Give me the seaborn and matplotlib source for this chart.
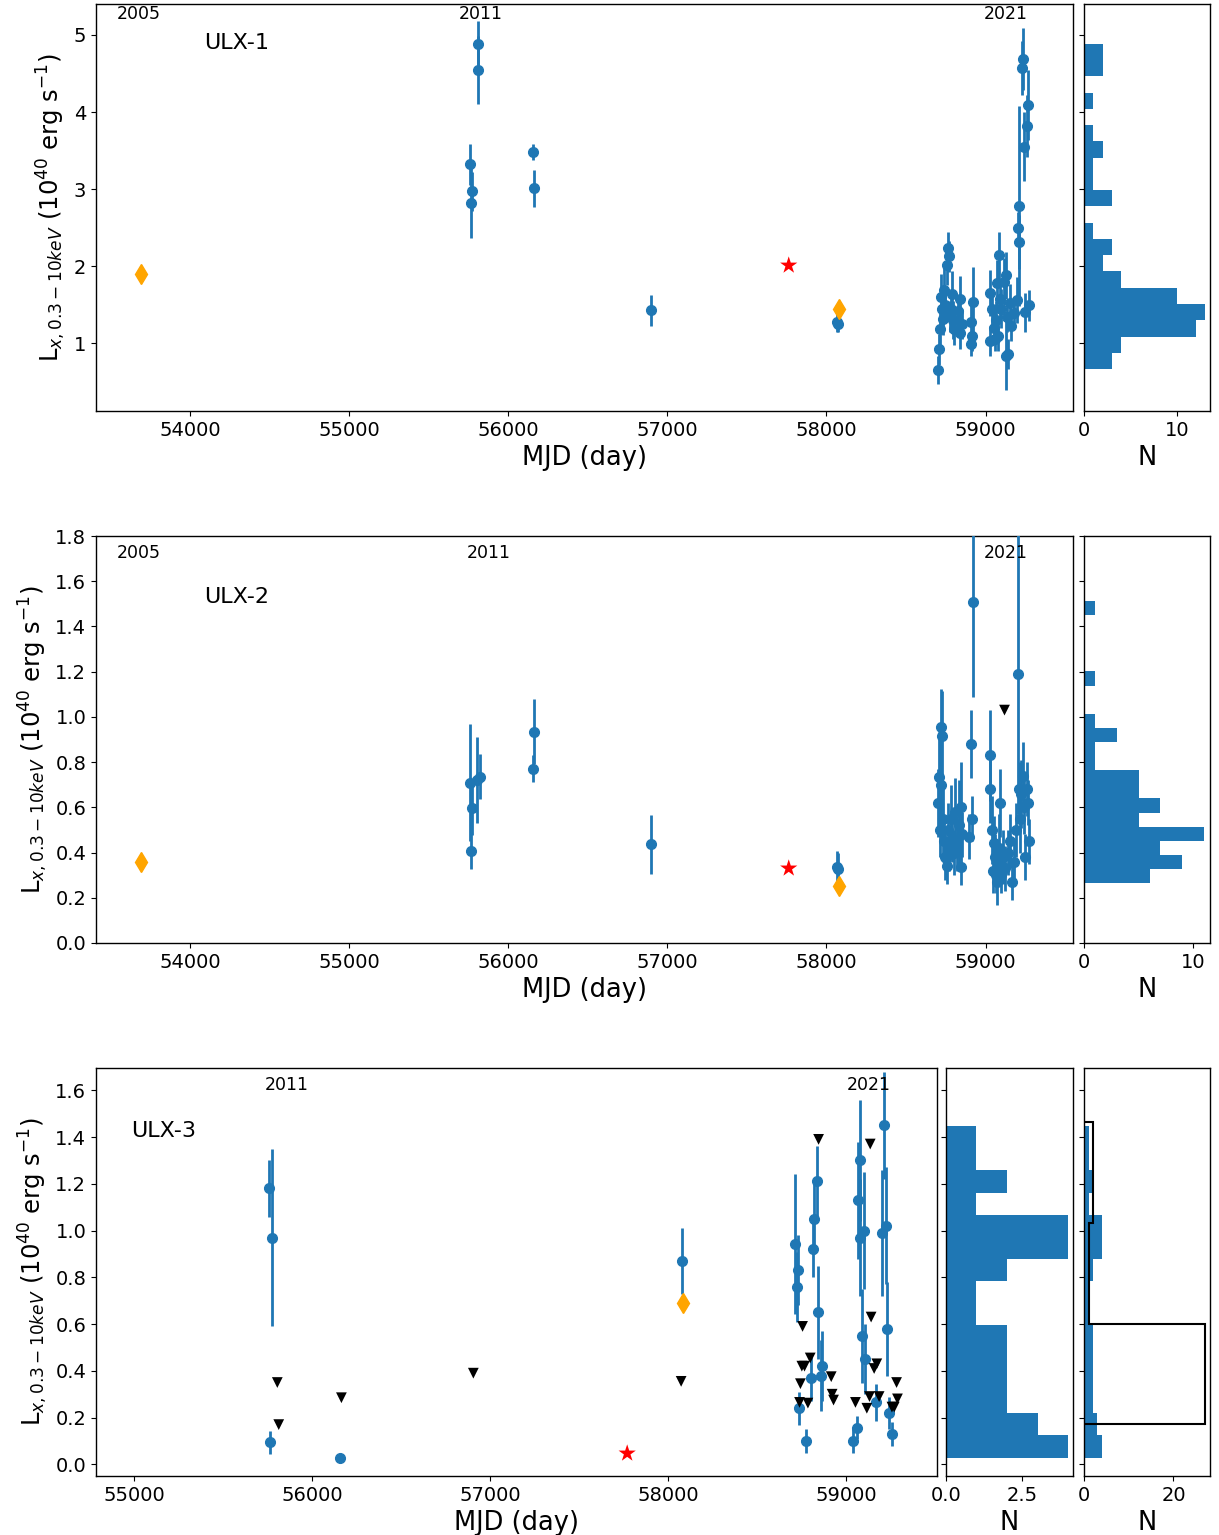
import numpy as np
import pandas as pd
import matplotlib
matplotlib.use("Agg")
import matplotlib.pyplot as plt
import seaborn as sns

# ---------------- ULX-1 ----------------
ulx1_mjd = [55759, 55771, 55765, 55809, 55812, 56155, 56161, 56896, 58068, 58072,
            58700, 58707, 58711, 58719, 58726, 58732, 58738, 58745, 58757, 58763,
            58768, 58775, 58785, 58790, 58795, 58800, 58826, 58837, 58842, 58850,
            58906, 58910, 58915, 58920, 59025, 59030, 59042, 59050, 59057, 59063,
            59073, 59077, 59084, 59088, 59100, 59117, 59126, 59130, 59135, 59140,
            59151, 59161, 59176, 59199, 59203, 59209, 59209, 59226, 59237, 59243,
            59245, 59258, 59266, 59270]
ulx1_lum = [3.32, 2.97, 2.82, 4.88, 4.55, 3.48, 3.01, 1.43, 1.27, 1.25,
            0.65, 0.92, 1.19, 1.60, 1.45, 1.31, 1.69, 1.50, 2.01, 2.23,
            2.13, 1.35, 1.44, 1.64, 1.30, 1.18, 1.42, 1.57, 1.13, 1.25,
            0.99, 1.28, 1.10, 1.54, 1.03, 1.65, 1.44, 1.20, 1.05, 1.30,
            1.78, 1.10, 2.14, 1.58, 1.45, 1.80, 0.84, 1.88, 1.34, 0.86,
            1.52, 1.23, 1.39, 1.56, 2.50, 2.78, 2.31, 4.57, 4.69, 3.55,
            1.40, 3.82, 4.09, 1.49]
ulx1_err = [0.27, 0.25, 0.45, 0.30, 0.44, 0.10, 0.24, 0.20, 0.12, 0.10,
            0.18, 0.20, 0.25, 0.30, 0.25, 0.20, 0.28, 0.20, 0.25, 0.22,
            0.20, 0.20, 0.22, 0.30, 0.25, 0.20, 0.20, 0.30, 0.20, 0.20,
            0.15, 0.25, 0.20, 0.45, 0.20, 0.30, 0.20, 0.20, 0.15, 0.25,
            0.30, 0.20, 0.30, 0.25, 0.25, 0.30, 0.45, 0.30, 0.20, 0.20,
            0.25, 0.20, 0.20, 0.30, 0.20, 1.30, 0.35, 0.35, 0.40, 0.45,
            0.25, 0.40, 0.45, 0.20]
ulx1_xmm_mjd = [53692, 58077]
ulx1_xmm_lum = [1.90, 1.44]
ulx1_xmm_err = [0.06, 0.06]
ulx1_cxo_mjd = [57763]
ulx1_cxo_lum = [2.01]
ulx1_hist_counts = [3, 4, 12, 13, 10, 4, 2, 3, 1, 0, 3, 1, 1, 2, 1, 0, 1, 0, 2, 2]
ulx1_hist_range = (0.665, 4.885)

# ---------------- ULX-2 ----------------
ulx2_mjd = [55759, 55771, 55766, 55805, 55820, 56163, 56157, 56896, 58068, 58072,
            58700, 58705, 58712, 58717, 58722, 58729, 58735, 58740, 58748, 58754,
            58760, 58766, 58772, 58780, 58790, 58800, 58810, 58820, 58835, 58843,
            58847, 58855, 58899, 58906, 58916, 58920, 59025, 59031, 59038, 59045,
            59052, 59060, 59066, 59070, 59078, 59085, 59092, 59100, 59110, 59125,
            59140, 59155, 59167, 59180, 59192, 59203, 59209, 59215, 59222, 59234,
            59240, 59250, 59260, 59266, 59272]
ulx2_lum = [0.709, 0.596, 0.407, 0.72, 0.735, 0.935, 0.77, 0.437, 0.336, 0.327,
            0.62, 0.735, 0.50, 0.954, 0.70, 0.915, 0.55, 0.45, 0.38, 0.375,
            0.34, 0.50, 0.42, 0.55, 0.46, 0.40, 0.58, 0.44, 0.52, 0.335,
            0.60, 0.48, 0.47, 0.88, 0.55, 1.51, 0.68, 0.83, 0.50, 0.32,
            0.44, 0.38, 0.30, 0.27, 0.35, 0.42, 0.62, 0.30, 0.38, 0.33,
            0.40, 0.45, 0.27, 0.36, 0.50, 1.19, 0.68, 0.55, 0.66, 0.74,
            0.60, 0.38, 0.68, 0.62, 0.45]
ulx2_err = [0.26, 0.12, 0.08, 0.19, 0.10, 0.145, 0.06, 0.13, 0.07, 0.07,
            0.15, 0.20, 0.12, 0.17, 0.25, 0.20, 0.15, 0.10, 0.10, 0.08,
            0.08, 0.12, 0.10, 0.15, 0.10, 0.10, 0.15, 0.12, 0.20, 0.08,
            0.20, 0.10, 0.10, 0.15, 0.10, 0.42, 0.15, 0.20, 0.15, 0.10,
            0.12, 0.10, 0.08, 0.10, 0.10, 0.15, 0.15, 0.08, 0.12, 0.10,
            0.10, 0.12, 0.08, 0.10, 0.12, 0.62, 0.12, 0.15, 0.15, 0.15,
            0.12, 0.10, 0.12, 0.10, 0.10]
ulx2_ul_mjd = [59119]
ulx2_ul_lum = [1.03]
ulx2_xmm_mjd = [53692, 58077]
ulx2_xmm_lum = [0.358, 0.25]
ulx2_xmm_err = [0.035, 0.02]
ulx2_cxo_mjd = [57763]
ulx2_cxo_lum = [0.33]
ulx2_hist_counts = [6, 9, 7, 11, 5, 7, 5, 5, 1, 1, 3, 1, 0, 0, 1, 0, 0, 0, 0, 1]
ulx2_hist_range = (0.265, 1.513)

# ---------------- ULX-3 ----------------
ulx3_mjd = [55760, 55773, 55764, 56157, 58079,
            58715, 58728, 58723, 58835, 58822, 58811, 58841, 58863, 58856, 58803,
            58734, 58775, 59080, 59064, 59075, 59101, 59213, 59200, 59225, 59088,
            59105, 59230, 59170, 59238, 59260, 59058, 59039]
ulx3_lum = [1.18, 0.97, 0.094, 0.029, 0.87,
            0.944, 0.83, 0.76, 1.21, 1.05, 0.92, 0.65, 0.42, 0.38, 0.37,
            0.24, 0.10, 1.30, 1.13, 0.97, 1.00, 1.45, 0.99, 1.02, 0.55,
            0.45, 0.58, 0.265, 0.22, 0.13, 0.157, 0.10]
ulx3_err = [0.12, 0.38, 0.05, 0.01, 0.14,
            0.30, 0.15, 0.15, 0.15, 0.15, 0.12, 0.20, 0.15, 0.15, 0.10,
            0.07, 0.05, 0.26, 0.25, 0.25, 0.25, 0.23, 0.27, 0.25, 0.20,
            0.15, 0.20, 0.08, 0.07, 0.05, 0.05, 0.05]
ulx3_ul_mjd = [55805, 55813, 56165, 56906, 58073,
               58845, 59135, 59140, 58755, 58798, 58751, 58766, 58916, 58743, 59172,
               59157, 59283, 58921, 58929, 58738, 58785, 59052, 59131, 59185, 59116,
               59288, 59257, 59270]
ulx3_ul_lum = [0.35, 0.17, 0.285, 0.39, 0.355,
               1.39, 1.37, 0.63, 0.59, 0.455, 0.42, 0.42, 0.375, 0.345, 0.43,
               0.41, 0.35, 0.30, 0.275, 0.265, 0.262, 0.265, 0.29, 0.29, 0.24,
               0.28, 0.245, 0.245]
ulx3_xmm_mjd = [58084]
ulx3_xmm_lum = [0.69]
ulx3_xmm_err = [0.02]
ulx3_cxo_mjd = [57770]
ulx3_cxo_lum = [0.047]
ulx3_hist_counts = [4, 3, 2, 2, 2, 2, 1, 1, 2, 4, 4, 1, 2, 1, 1]
ulx3_hist_range = (0.029, 1.446)
ulx3_ul_hist_counts = [27, 1, 2]
ulx3_ul_hist_range = (0.171, 1.463)

BLUE = "#1f77b4"

sns.set_style("ticks")
plt.rcParams["font.family"] = ["DejaVu Sans"]
plt.rcParams["axes.edgecolor"] = "black"
plt.rcParams["xtick.color"] = "black"
plt.rcParams["ytick.color"] = "black"
plt.rcParams["text.color"] = "black"
plt.rcParams["axes.labelcolor"] = "black"

YLABEL = r"L$_{x,0.3-10keV}$ (10$^{40}$ erg s$^{-1}$)"


def draw_lc(ax, mjd, lum, err, xmm, cxo, ul=None):
    ax.errorbar(mjd, lum, yerr=err, fmt="o", color=BLUE, ms=7,
                elinewidth=2, capsize=0, zorder=3)
    ax.errorbar(xmm[0], xmm[1], yerr=xmm[2], fmt="d", color="orange", ms=10,
                elinewidth=2, capsize=0, zorder=4)
    sns.scatterplot(x=cxo[0], y=cxo[1], marker="*", color="red", s=170,
                    edgecolor="none", ax=ax, zorder=4)
    if ul is not None:
        sns.scatterplot(x=ul[0], y=ul[1], marker="v", color="black", s=60,
                        edgecolor="none", ax=ax, zorder=4)
    ax.set_xlabel("MJD (day)", fontsize=18.5)
    ax.set_ylabel(YLABEL, fontsize=17.5)
    ax.tick_params(labelsize=14)


def draw_hist(ax, counts, rng, xmax):
    edges = np.linspace(rng[0], rng[1], len(counts) + 1)
    df = pd.DataFrame({"L": 0.5 * (edges[:-1] + edges[1:]), "N": counts})
    sns.histplot(data=df, y="L", weights="N", bins=list(edges), color=BLUE,
                 alpha=1, linewidth=0, ax=ax)
    ax.set_xlim(0, xmax)
    ax.set_xlabel("N", fontsize=18.5)
    ax.set_ylabel("")
    ax.tick_params(labelsize=14, labelleft=False)


def year_labels(ax, items, yfrac):
    for x, t in items:
        ax.text(x, yfrac, t, transform=ax.get_xaxis_transform(),
                ha="center", va="center", fontsize=12.5)


fig = plt.figure(figsize=(12.19, 15.35), dpi=100)

# panel 1
ax1 = fig.add_axes([0.0788, 0.7322, 0.8015, 0.2651])
h1 = fig.add_axes([0.8893, 0.7322, 0.1034, 0.2651], sharey=ax1)
draw_lc(ax1, ulx1_mjd, ulx1_lum, ulx1_err,
        (ulx1_xmm_mjd, ulx1_xmm_lum, ulx1_xmm_err), (ulx1_cxo_mjd, ulx1_cxo_lum))
draw_hist(h1, ulx1_hist_counts, ulx1_hist_range, 13.5)
ax1.set_xlim(53410, 59550)
ax1.set_ylim(0.12, 5.4)
ax1.set_yticks([1, 2, 3, 4, 5])
h1.set_xticks([0, 10])
year_labels(ax1, [(53680, "2005"), (55828, "2011"), (59126, "2021")], 0.975)
ax1.text(0.144, 0.904, "ULX-1", transform=ax1.transAxes, ha="center", va="center", fontsize=16)

# panel 2
ax2 = fig.add_axes([0.0788, 0.3857, 0.8015, 0.2651])
h2 = fig.add_axes([0.8893, 0.3857, 0.1034, 0.2651], sharey=ax2)
draw_lc(ax2, ulx2_mjd, ulx2_lum, ulx2_err,
        (ulx2_xmm_mjd, ulx2_xmm_lum, ulx2_xmm_err), (ulx2_cxo_mjd, ulx2_cxo_lum),
        (ulx2_ul_mjd, ulx2_ul_lum))
draw_hist(h2, ulx2_hist_counts, ulx2_hist_range, 11.55)
ax2.set_xlim(53410, 59550)
ax2.set_ylim(0, 1.8)
ax2.set_yticks(np.arange(0, 1.81, 0.2))
h2.set_xticks([0, 10])
year_labels(ax2, [(53680, "2005"), (55878, "2011"), (59126, "2021")], 0.958)
ax2.text(0.144, 0.85, "ULX-2", transform=ax2.transAxes, ha="center", va="center", fontsize=16)

# panel 3
ax3 = fig.add_axes([0.0788, 0.0384, 0.690, 0.2658])
h3 = fig.add_axes([0.776, 0.0384, 0.1042, 0.2658], sharey=ax3)
h4 = fig.add_axes([0.8893, 0.0384, 0.1034, 0.2658], sharey=ax3)
draw_lc(ax3, ulx3_mjd, ulx3_lum, ulx3_err,
        (ulx3_xmm_mjd, ulx3_xmm_lum, ulx3_xmm_err), (ulx3_cxo_mjd, ulx3_cxo_lum),
        (ulx3_ul_mjd, ulx3_ul_lum))
draw_hist(h3, ulx3_hist_counts, ulx3_hist_range, 4.16)
draw_hist(h4, ulx3_hist_counts, ulx3_hist_range, 28.2)
ul_edges = np.linspace(ulx3_ul_hist_range[0], ulx3_ul_hist_range[1], len(ulx3_ul_hist_counts) + 1)
h4.stairs(ulx3_ul_hist_counts, ul_edges, orientation="horizontal", color="black", linewidth=1.5)
h4.set_xlim(0, 28.2)
ax3.set_xlim(54787, 59511)
ax3.set_ylim(-0.05, 1.695)
ax3.set_yticks(np.arange(0, 1.61, 0.2))
ax3.set_xticks([55000, 56000, 57000, 58000, 59000])
h3.set_xticks([0, 2.5])
h4.set_xticks([0, 20])
year_labels(ax3, [(55860, "2011"), (59129, "2021")], 0.958)
ax3.text(0.08, 0.846, "ULX-3", transform=ax3.transAxes, ha="center", va="center", fontsize=16)

for ax in [ax1, ax2, ax3, h1, h2, h3, h4]:
    for s in ax.spines.values():
        s.set_linewidth(1.0)

fig.savefig("out.png", dpi=100)
